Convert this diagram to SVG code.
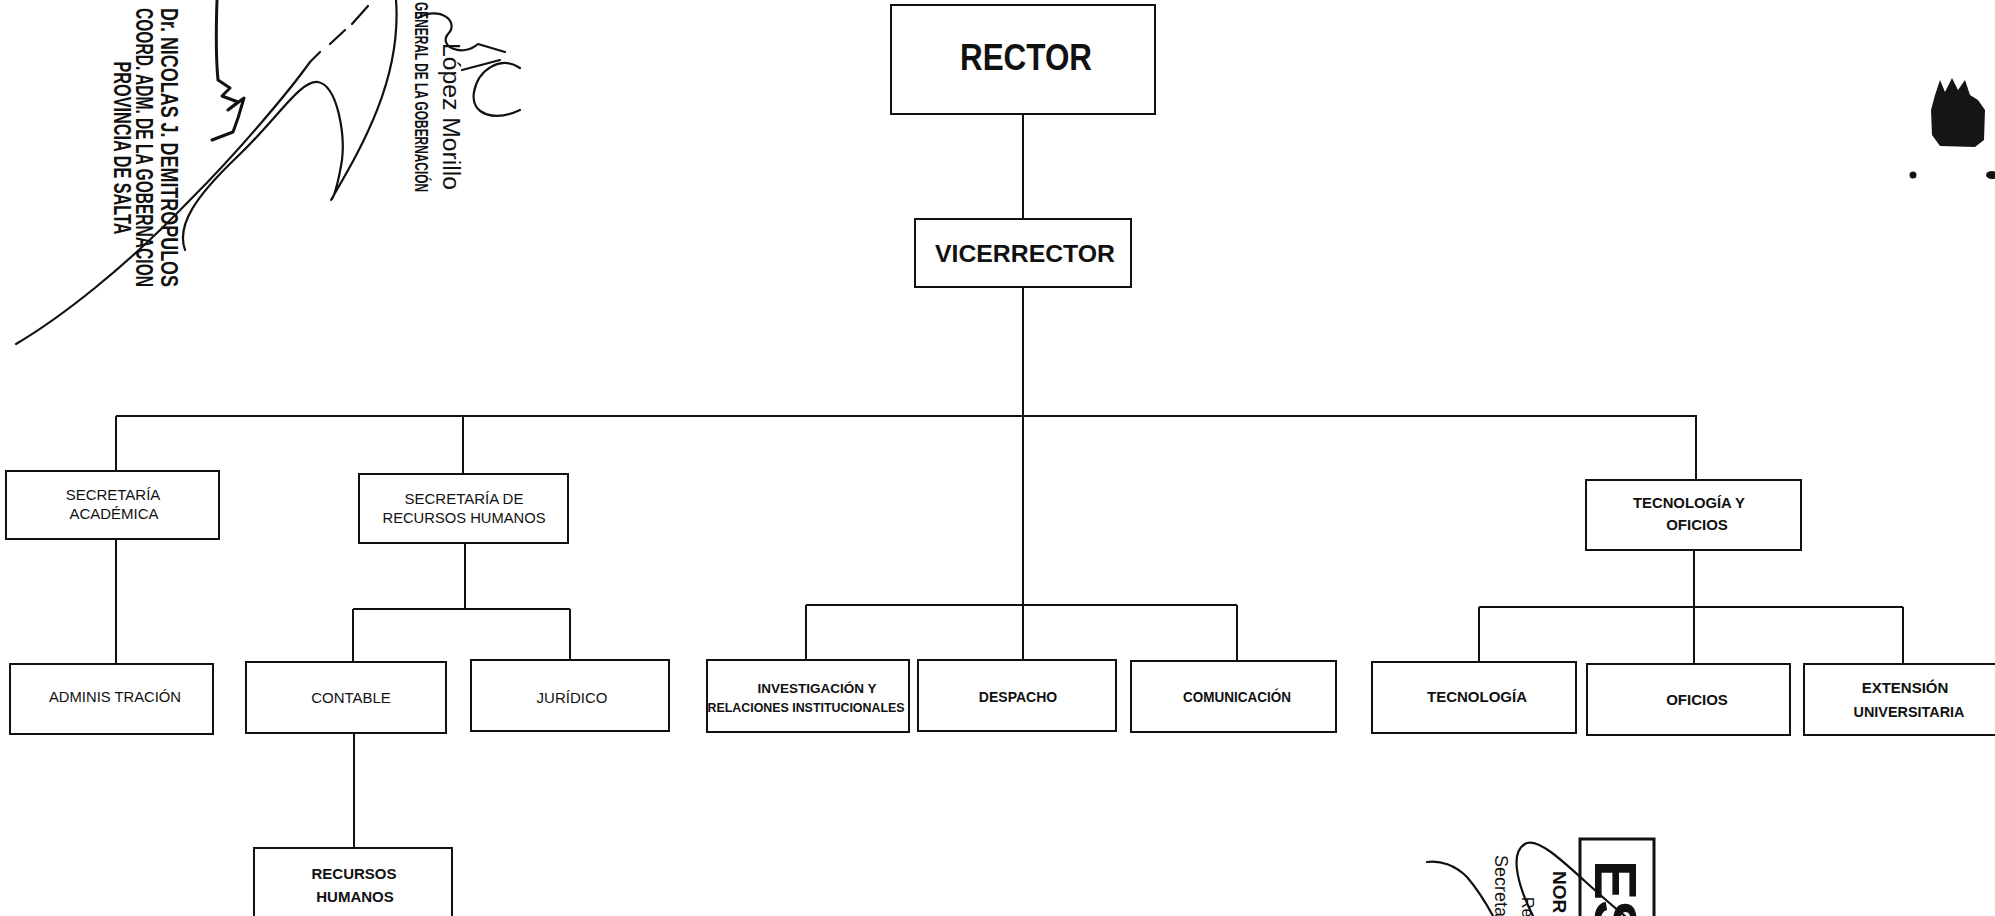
<svg xmlns="http://www.w3.org/2000/svg" width="1995" height="916" viewBox="0 0 1995 916">
<style>
.box{fill:#fff;stroke:#111;stroke-width:2}
.ln{fill:none;stroke:#111;stroke-width:2}
.t{font-family:"Liberation Sans",Arial,sans-serif;fill:#111;text-anchor:middle}
.r{font-size:15px}
.b{font-size:15px;font-weight:bold}
.b14{font-size:14px;font-weight:bold}
.sig{fill:none;stroke:#111;stroke-width:2.2;stroke-linecap:round;stroke-linejoin:round}
.st{font-family:"Liberation Sans",Arial,sans-serif;fill:#111}
</style>
<rect width="1995" height="916" fill="#fff"/>

<g id="connectors">
<path class="ln" d="M1023,114V219M1023,287V660M116,416H1697M116,416V471M463,416V474M1696,416V480M116,539V664"/>
<path class="ln" d="M465,543V609M353,609H570M353,609V662M570,609V660M354,733V848"/>
<path class="ln" d="M806,605H1237M806,605V660M1237,605V661"/>
<path class="ln" d="M1694,550V664M1479,607H1903M1479,607V662M1903,607V664"/>
</g>

<g id="rector"><rect class="box" x="891" y="5" width="264" height="109"/><text class="t" x="1026" y="70" style="font-size:36px;font-weight:bold" textLength="132" lengthAdjust="spacingAndGlyphs">RECTOR</text></g>
<g id="vicerrector"><rect class="box" x="915" y="219" width="216" height="68"/><text class="t" x="1025" y="262" style="font-size:24px;font-weight:bold" textLength="180" lengthAdjust="spacingAndGlyphs">VICERRECTOR</text></g>

<g id="sec-academica"><rect class="box" x="6" y="471" width="213" height="68"/><text class="t r" x="113" y="500">SECRETARÍA</text><text class="t r" x="114" y="519">ACADÉMICA</text></g>
<g id="sec-rrhh"><rect class="box" x="359" y="474" width="209" height="69"/><text class="t r" x="464" y="504">SECRETARÍA DE</text><text class="t r" x="464" y="523" textLength="163" lengthAdjust="spacingAndGlyphs">RECURSOS HUMANOS</text></g>
<g id="tec-oficios"><rect class="box" x="1586" y="480" width="215" height="70"/><text class="t b" x="1689" y="508" textLength="112" lengthAdjust="spacingAndGlyphs">TECNOLOGÍA Y</text><text class="t b" x="1697" y="530">OFICIOS</text></g>

<g id="administracion"><rect class="box" x="10" y="664" width="203" height="70"/><text class="t r" x="115" y="702" textLength="132" lengthAdjust="spacingAndGlyphs">ADMINIS TRACIÓN</text></g>
<g id="contable"><rect class="box" x="246" y="662" width="200" height="71"/><text class="t r" x="351" y="703">CONTABLE</text></g>
<g id="juridico"><rect class="box" x="471" y="660" width="198" height="71"/><text class="t r" x="572" y="703">JURÍDICO</text></g>
<g id="investigacion"><rect class="box" x="707" y="660" width="202" height="72"/><text class="t" x="817" y="693" style="font-size:13px;font-weight:bold" textLength="119" lengthAdjust="spacingAndGlyphs">INVESTIGACIÓN Y</text><text class="t" x="806" y="712" style="font-size:13px;font-weight:bold" textLength="197" lengthAdjust="spacingAndGlyphs">RELACIONES INSTITUCIONALES</text></g>
<g id="despacho"><rect class="box" x="918" y="660" width="198" height="71"/><text class="t b14" x="1018" y="702">DESPACHO</text></g>
<g id="comunicacion"><rect class="box" x="1131" y="661" width="205" height="71"/><text class="t b14" x="1237" y="702" textLength="108" lengthAdjust="spacingAndGlyphs">COMUNICACIÓN</text></g>
<g id="tecnologia"><rect class="box" x="1372" y="662" width="204" height="71"/><text class="t b" x="1477" y="702">TECNOLOGÍA</text></g>
<g id="oficios"><rect class="box" x="1587" y="664" width="203" height="71"/><text class="t b" x="1697" y="705">OFICIOS</text></g>
<g id="extension"><rect class="box" x="1804" y="664" width="200" height="71"/><text class="t b" x="1905" y="693">EXTENSIÓN</text><text class="t b" x="1909" y="717" textLength="111" lengthAdjust="spacingAndGlyphs">UNIVERSITARIA</text></g>
<g id="recursos-humanos"><rect class="box" x="254" y="848" width="198" height="80"/><text class="t b" x="354" y="879">RECURSOS</text><text class="t b" x="355" y="902">HUMANOS</text></g>

<g id="firma-izquierda">
<text class="st" transform="translate(161,8) rotate(90)" x="0" y="0" style="font-size:24px;font-weight:bold" textLength="279" lengthAdjust="spacingAndGlyphs">Dr. NICOLAS J. DEMITROPULOS</text>
<text class="st" transform="translate(136,8) rotate(90)" x="0" y="0" style="font-size:24px;font-weight:bold" textLength="279" lengthAdjust="spacingAndGlyphs">COORD. ADM. DE LA GOBERNACION</text>
<text class="st" transform="translate(114,0) rotate(90)" x="148" y="0" style="font-size:24px;font-weight:bold;text-anchor:middle" textLength="173" lengthAdjust="spacingAndGlyphs">PROVINCIA DE SALTA</text>
<text class="st" transform="translate(443,0) rotate(90)" x="43" y="0" style="font-size:23px" textLength="147" lengthAdjust="spacingAndGlyphs">López Morillo</text>
<text class="st" transform="translate(415,0) rotate(90)" x="2" y="0" style="font-size:18px;font-weight:bold" textLength="190" lengthAdjust="spacingAndGlyphs">GENERAL DE LA GOBERNACIÓN</text>
<path class="sig" style="stroke-width:3" d="M217,0C216,30 216,60 218,80L230,88L222,96L238,102L228,110L244,98L238,118L233,132L212,140"/>
<path class="sig" d="M16,344C60,318 125,268 190,200C240,150 290,90 310,62L320,52M330,44L345,30M352,24L368,6"/>
<path class="sig" d="M185,250C176,225 196,196 238,156C278,118 300,80 318,82C338,86 345,135 342,160C338,185 333,200 331,200C360,150 402,80 396,0"/>
<path class="sig" d="M520,68C500,55 478,70 474,92C470,115 495,122 520,110"/>
<path class="sig" d="M418,18C440,5 460,22 448,34C438,46 462,58 478,44L505,52M462,70L500,60"/>
</g>

<g id="sello-derecha">
<rect x="1580" y="839" width="74" height="90" fill="none" stroke="#111" stroke-width="3"/>
<text class="st" transform="translate(1595,860) rotate(90)" x="0" y="0" style="font-size:60px;font-weight:bold">ES</text>
<text class="st" transform="translate(1553,871) rotate(90)" x="0" y="0" style="font-size:19px;font-weight:bold">NOR</text>
<text class="st" transform="translate(1522,897) rotate(90)" x="0" y="0" style="font-size:16px">Re</text>
<text class="st" transform="translate(1495,855) rotate(90)" x="0" y="0" style="font-size:18px">Secreta</text>
<path class="sig" d="M1427,862C1440,860 1455,865 1467,877C1478,890 1486,903 1493,916"/>
<path class="sig" d="M1533,916C1515,880 1510,850 1527,843C1545,838 1580,880 1625,916"/>
</g>

<g id="marca-derecha">
<path d="M1935,95L1940,80L1945,92L1952,78L1958,90L1965,80L1970,95L1978,100L1985,110L1984,140L1975,147L1940,146L1932,135L1931,110Z" fill="#151515"/>
<circle cx="1913" cy="175" r="3.5" fill="#111"/>
<ellipse cx="1992" cy="175" rx="6" ry="4" fill="#111"/>
</g>
</svg>
